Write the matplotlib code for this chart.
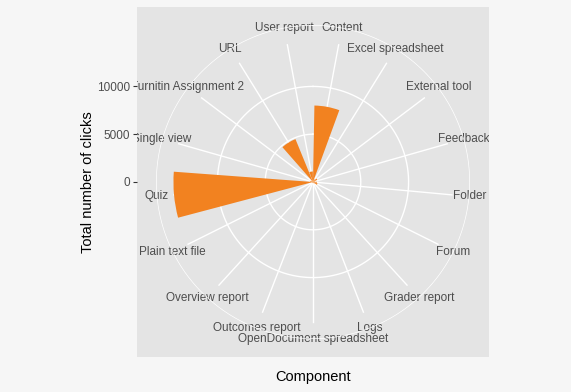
import numpy as np
import matplotlib
matplotlib.use("Agg")
import matplotlib.pyplot as plt

# clicks per component
components = ["Content", "Excel spreadsheet", "External tool", "Feedback", "Folder",
              "Forum", "Grader report", "Logs", "OpenDocument spreadsheet",
              "Outcomes report", "Overview report", "Plain text file", "Quiz",
              "Single view", "Turnitin Assignment 2", "URL", "User report"]
clicks = [8000, 300, 500, 200, 400, 500, 200, 100, 50, 50, 150, 100, 14600,
          300, 200, 4850, 1100]
r_ticks = [0, 5000, 10000]

orange = "#F28220"
panel_bg = "#E4E4E4"
text_col = "#4D4D4D"

plt.rcParams['font.family'] = ['Liberation Sans', 'DejaVu Sans']

fig = plt.figure(figsize=(5.71, 3.92), dpi=100)
fig.patch.set_facecolor("#F6F6F6")

W, H = 571.0, 392.0
cx, cy = 313.0, 182.0          # centre of the polar plot (pixels from top-left)
rad = 157.0                    # outer circle radius in pixels
pan_l, pan_r, pan_t, pan_b = 137.0, 489.0, 7.0, 357.0

# ggplot style: no expansion on r, data max at 0.4, outer circle at 0.45
rmax = max(clicks)
R = rmax * 0.45 / 0.4
per_px = R / rad

# grey panel with the radius axis on its left side
panel = fig.add_axes([pan_l / W, (H - pan_b) / H, (pan_r - pan_l) / W, (pan_b - pan_t) / H])
panel.set_facecolor(panel_bg)
panel.set_xlim(0, 1)
panel.set_ylim(-(pan_b - cy) * per_px, (cy - pan_t) * per_px)
panel.set_xticks([])
panel.set_yticks(r_ticks)
panel.set_yticklabels([str(t) for t in r_ticks])
panel.tick_params(axis="y", length=3, width=0.8, color="#333333", labelcolor=text_col,
                  labelsize=8.5, pad=2)
for s in panel.spines.values():
    s.set_visible(False)
panel.set_xlabel("Component", fontsize=10.5, labelpad=9)
panel.set_ylabel("Total number of clicks", fontsize=10.5)
panel.yaxis.set_label_coords(-0.118, 0.5)

# polar axes on top, transparent
pol = fig.add_axes([(cx - rad) / W, (H - cy - rad) / H, 2 * rad / W, 2 * rad / H],
                   projection="polar")
pol.set_facecolor("none")
pol.set_theta_zero_location("N")
pol.set_theta_direction(-1)
pol.set_ylim(0, R)
pol.set_xticks([])
pol.set_yticks([])
pol.grid(False)
pol.spines["polar"].set_visible(False)

n = len(components)
theta = 2 * np.pi * (np.arange(n) + 0.5) / n
width = 0.9 * 2 * np.pi / n

# grid: spokes stop at the data max, circles at the breaks plus the outer one
ring = np.linspace(0, 2 * np.pi, 400)
for t in theta:
    pol.plot([t, t], [0, rmax], color="white", lw=1.0, zorder=1)
for r in r_ticks[1:] + [R]:
    pol.plot(ring, np.full_like(ring, r), color="white", lw=1.0, zorder=1)

pol.bar(theta, clicks, width=width, bottom=0, color=orange, edgecolor="none", zorder=2)

# category labels sit centred on the outer circle, clipped by the panel
for t, name in zip(theta, components):
    panel.text(t, R, name, transform=pol.transData, ha="center", va="center",
               fontsize=8.5, color=text_col, clip_on=True, zorder=5)

fig.savefig("out.png", dpi=100, facecolor=fig.get_facecolor())
